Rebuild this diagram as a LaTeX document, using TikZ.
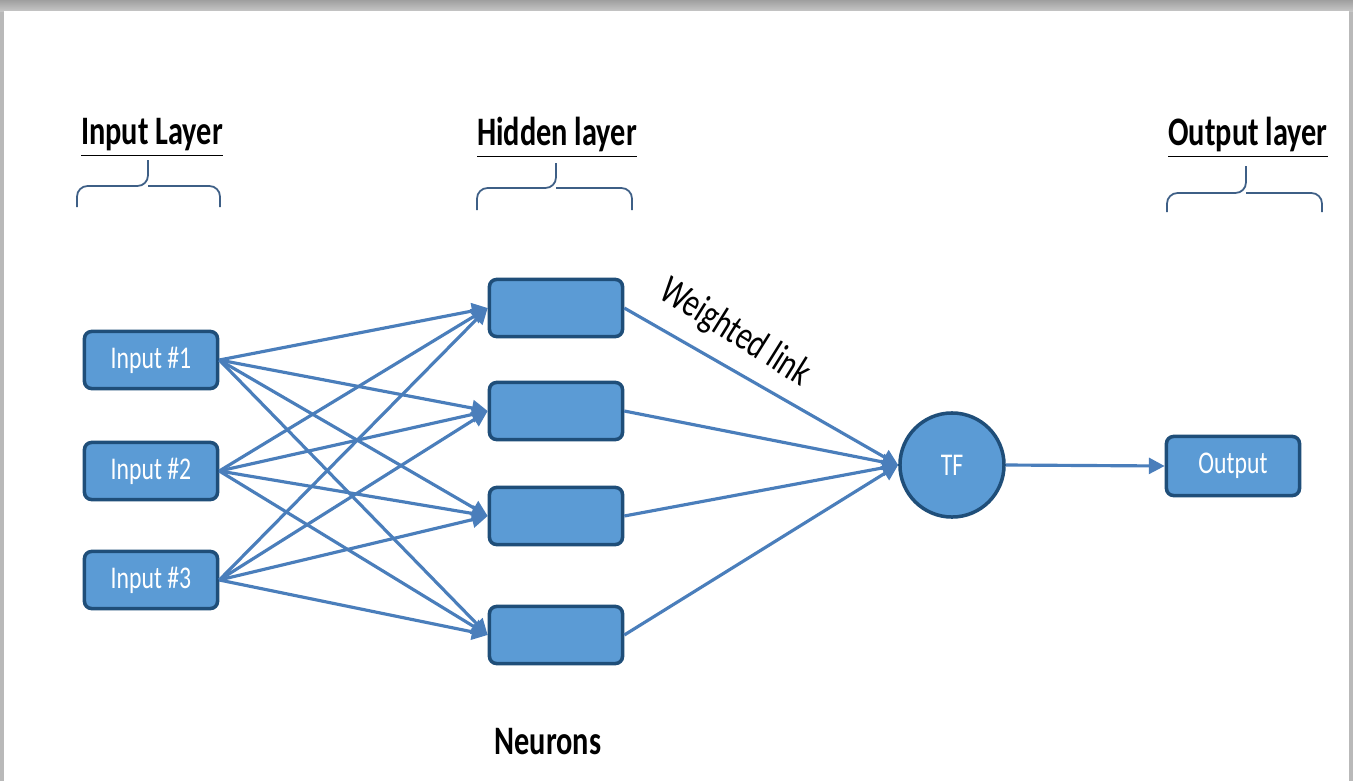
\documentclass[tikz,border=0pt]{standalone}
\usepackage{fontspec}
\setmainfont{Carlito}
\usetikzlibrary{arrows.meta}
\definecolor{boxblue}{HTML}{5B9BD5}
\definecolor{edgeblue}{HTML}{1F4E79}
\definecolor{linkblue}{HTML}{4A7EBB}
\definecolor{bracegray}{HTML}{3E5F86}
\newcommand{\squeeze}[1]{\scalebox{0.75}[1]{#1}}
\begin{document}
\begin{tikzpicture}[
    x=0.01cm, y=-0.01cm,
    unit_box/.style={rectangle, rounded corners=2pt, draw=edgeblue, line width=1pt, fill=boxblue,
        minimum width=1.33cm, minimum height=0.57cm, inner sep=0pt, text=white, font=\fontsize{9}{11}\selectfont},
    tf_node/.style={circle, draw=edgeblue, line width=1pt, fill=boxblue, minimum size=1.04cm,
        inner sep=0pt, text=white, font=\fontsize{9}{11}\selectfont},
    heading/.style={font=\fontsize{11.5}{14}\selectfont\bfseries},
    link/.style={draw=linkblue, line width=0.9pt, -{Triangle[length=4.5pt,width=4.5pt]}},
    brace_line/.style={draw=bracegray, line width=0.5pt, rounded corners=3pt}
]
\useasboundingbox (0,0) rectangle (1353,781);
% frame with shadow
\fill[gray!55] (0,0) rectangle (1353,781);
\shade[top color=gray!75, bottom color=gray!45] (0,0) rectangle (1353,11);
\fill[white] (4,11) rectangle (1349,781);
% headings and braces
\node[heading] (hin) at (152,138) {\squeeze{\underline{Input Layer}}};
\node[heading] (hhid) at (557,138) {\squeeze{\underline{Hidden layer}}};
\node[heading] (hout) at (1248,138) {\squeeze{\underline{Output layer}}};
\draw[brace_line] (77,207) |- (148,186) -- (148,160);
\draw[brace_line] (148,186) -| (220,207);
\draw[brace_line] (477,210) |- (556,188) -- (556,163);
\draw[brace_line] (556,188) -| (632,210);
\draw[brace_line] (1167,212) |- (1246,193) -- (1246,166);
\draw[brace_line] (1246,193) -| (1322,212);
% input layer
\foreach \i/\y in {1/360,2/471,3/580}
    \node[unit_box] (in\i) at (151,\y) {\squeeze{Input \#\i}};
% hidden layer
\foreach \j/\y in {1/308,2/411,3/516,4/635}
    \node[unit_box] (h\j) at (556,\y) {};
% transfer function and output
\node[tf_node] (tf) at (952,465) {\squeeze{TF}};
\node[unit_box, minimum height=0.59cm] (out) at (1233,466) {\squeeze{Output}};
% links
\foreach \i in {1,2,3}
    \foreach \j in {1,...,4}
        \draw[link] (in\i.east) -- (h\j.west);
\foreach \j in {1,...,4}
    \draw[link] (h\j.east) -- (tf.west);
\draw[link] (tf.east) -- (out.west);
% labels
\node[rotate=-32, font=\fontsize{11.5}{14}\selectfont] (wl) at (735,333) {\squeeze{Weighted link}};
\node[heading] (neu) at (548,742) {\squeeze{Neurons}};
\end{tikzpicture}
\end{document}
